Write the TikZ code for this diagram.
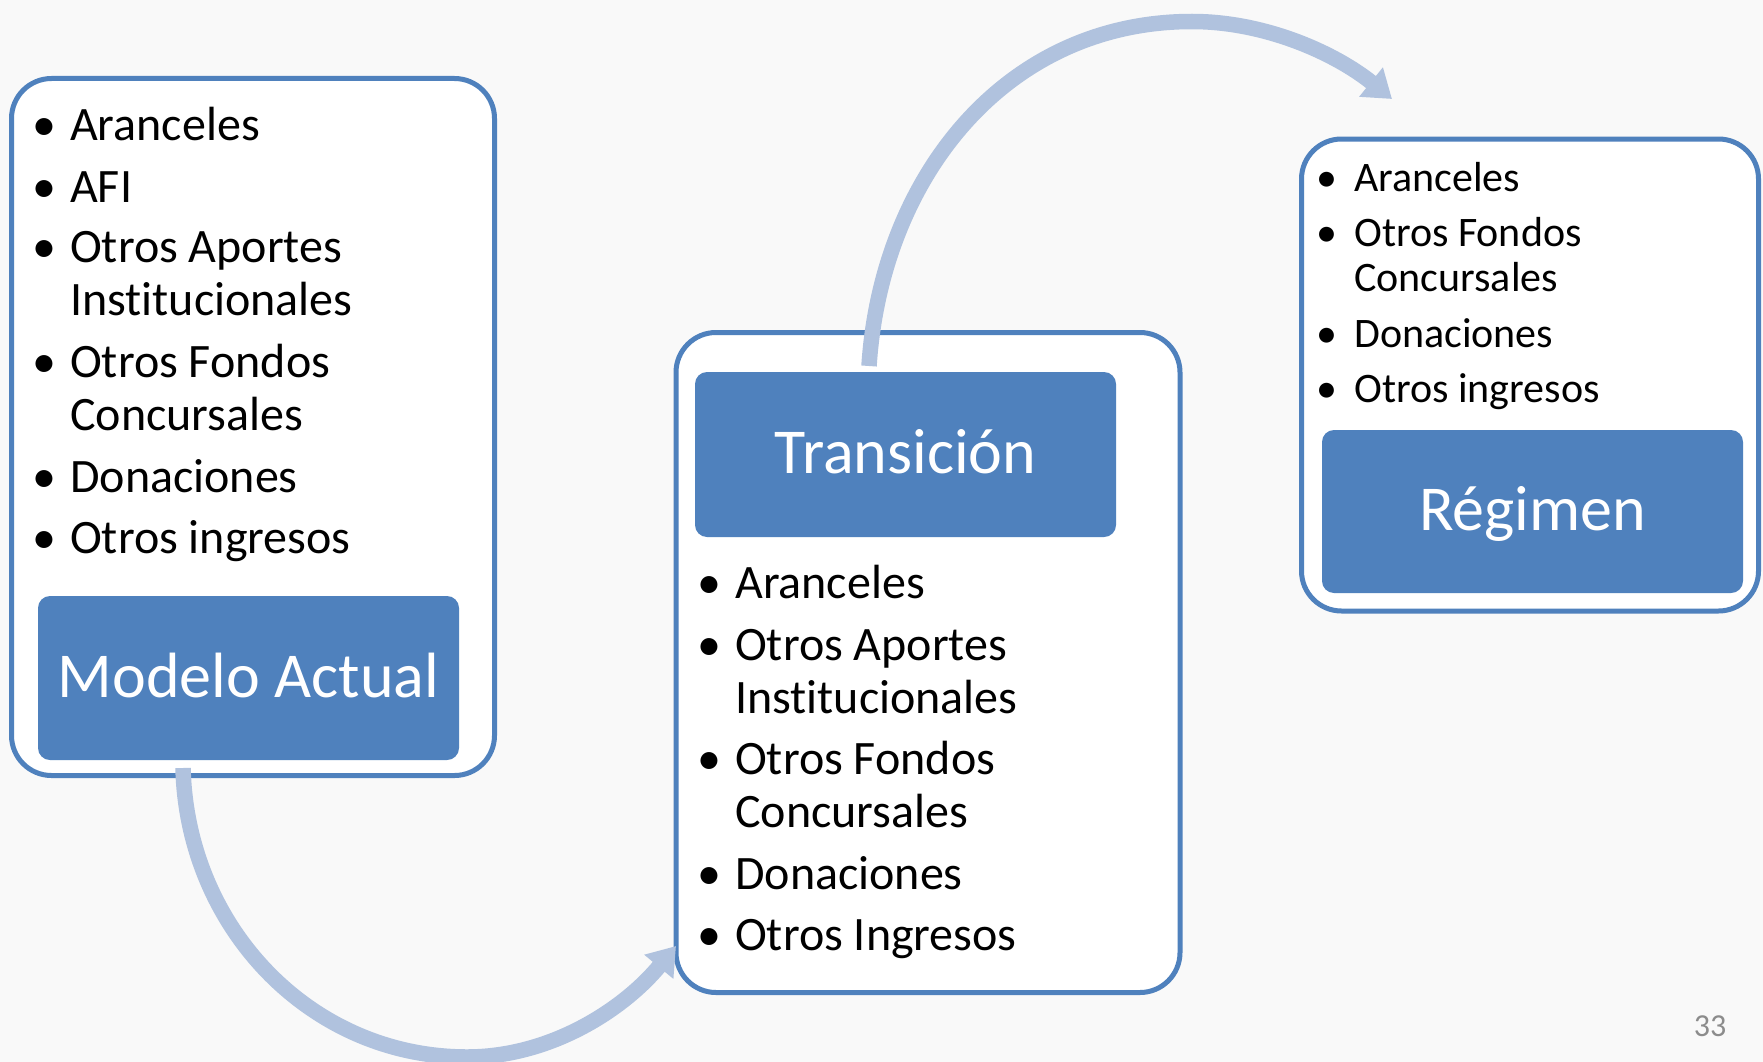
\documentclass[tikz,border=0pt]{standalone}
\usepackage{fontspec}
\setmainfont{Carlito}[Ligatures=NoCommon]
\usetikzlibrary{arrows.meta}
\definecolor{boxblue}{HTML}{4F81BD}
\definecolor{arrowblue}{HTML}{B0C2DE}
\definecolor{bggray}{HTML}{F9F9F9}
\definecolor{pagegray}{HTML}{8C8C8C}
\begin{document}
\begin{tikzpicture}[x=1pt,y=-1pt,
  outerbox/.style={draw=boxblue, line width=5pt, fill=white, rounded corners=40pt, inner sep=0pt, outer sep=0pt, anchor=north west},
  titlebox/.style={fill=boxblue, rounded corners=12pt, inner sep=0pt, outer sep=0pt, text=white, font=\fontsize{64}{77}\selectfont, text height=50pt, text depth=12pt},
  itemL/.style={anchor=base west, inner sep=0pt, font=\fontsize{48}{58}\selectfont},
  bulL/.style={anchor=base, inner sep=0pt, font=\fontsize{48}{58}\selectfont},
  itemR/.style={anchor=base west, inner sep=0pt, font=\fontsize{42}{50}\selectfont},
  bulR/.style={anchor=base, inner sep=0pt, font=\fontsize{42}{50}\selectfont},
  flow/.style={draw=arrowblue, line width=15.5pt, -{Triangle[width=36pt,length=27pt]}}
]
\fill[bggray] (0,0) rectangle (1763,1062);
\useasboundingbox (0,0) rectangle (1763,1062);

% outer boxes
\node[outerbox, minimum width=483pt, minimum height=697pt] (LB) at (11.5,78.5) {};
\node[outerbox, minimum width=504pt, minimum height=660pt] (MB) at (676,332.5) {};
\node[outerbox, minimum width=457pt, minimum height=472pt] (RB) at (1301.5,139) {};

% title boxes
\node[titlebox, minimum width=421pt, minimum height=164pt] (LT) at (248.5,678) {Modelo Actual};
\node[titlebox, minimum width=421pt, minimum height=165pt] (MT) at (905.5,454.5) {Transición};
\node[titlebox, minimum width=421pt, minimum height=163pt] (RT) at (1532.5,511.5) {Régimen};

% left list
\node[bulL] (lb1) at (44,140) {•};  \node[itemL] (l1) at (70,140) {Aranceles};
\node[bulL] (lb2) at (44,202) {•};  \node[itemL] (l2) at (70,202) {AFI};
\node[bulL] (lb3) at (44,262) {•};  \node[itemL] (l3) at (70,262) {Otros Aportes};
\node[itemL] (l3b) at (70,315) {Institucionales};
\node[bulL] (lb4) at (44,377) {•};  \node[itemL] (l4) at (70,377) {Otros Fondos};
\node[itemL] (l4b) at (70,430) {Concursales};
\node[bulL] (lb5) at (44,492) {•};  \node[itemL] (l5) at (70,492) {Donaciones};
\node[bulL] (lb6) at (44,553) {•};  \node[itemL] (l6) at (70,553) {Otros ingresos};

% middle list
\node[bulL] (mb1) at (709.5,598) {•};  \node[itemL] (m1) at (735,598) {Aranceles};
\node[bulL] (mb2) at (709.5,660) {•};  \node[itemL] (m2) at (735,660) {Otros Aportes};
\node[itemL] (m2b) at (735,713) {Institucionales};
\node[bulL] (mb3) at (709.5,774) {•};  \node[itemL] (m3) at (735,774) {Otros Fondos};
\node[itemL] (m3b) at (735,827) {Concursales};
\node[bulL] (mb4) at (709.5,889) {•};  \node[itemL] (m4) at (735,889) {Donaciones};
\node[bulL] (mb5) at (709.5,950) {•};  \node[itemL] (m5) at (735,950) {Otros Ingresos};

% right list
\node[bulR] (rb1) at (1327,191) {•};  \node[itemR] (r1) at (1354,191) {Aranceles};
\node[bulR] (rb2) at (1327,246) {•};  \node[itemR] (r2) at (1354,246) {Otros Fondos};
\node[itemR] (r2b) at (1354,291) {Concursales};
\node[bulR] (rb3) at (1327,347) {•};  \node[itemR] (r3) at (1354,347) {Donaciones};
\node[bulR] (rb4) at (1327,402) {•};  \node[itemR] (r4) at (1354,402) {Otros ingresos};

% page number
\node[anchor=base, inner sep=0pt, text=pagegray, font=\fontsize{32}{38}\selectfont] (pg) at (1710,1036) {33};

% arrows
\coordinate (a1s) at (183,768);
\coordinate (a1m) at (467,1057);
\coordinate (a1e) at (676,946);
\draw[flow] (a1s) .. controls (187,927) and (310,1057) .. (a1m)
               .. controls (550,1057) and (623,1010) .. (a1e);
\coordinate (a2s) at (869,366);
\coordinate (a2m) at (1192,21.5);
\coordinate (a2e) at (1392,99);
\draw[flow] (a2s) .. controls (881,179) and (1004,21.5) .. (a2m)
               .. controls (1265,21.5) and (1335,53) .. (a2e);
\end{tikzpicture}
\end{document}
